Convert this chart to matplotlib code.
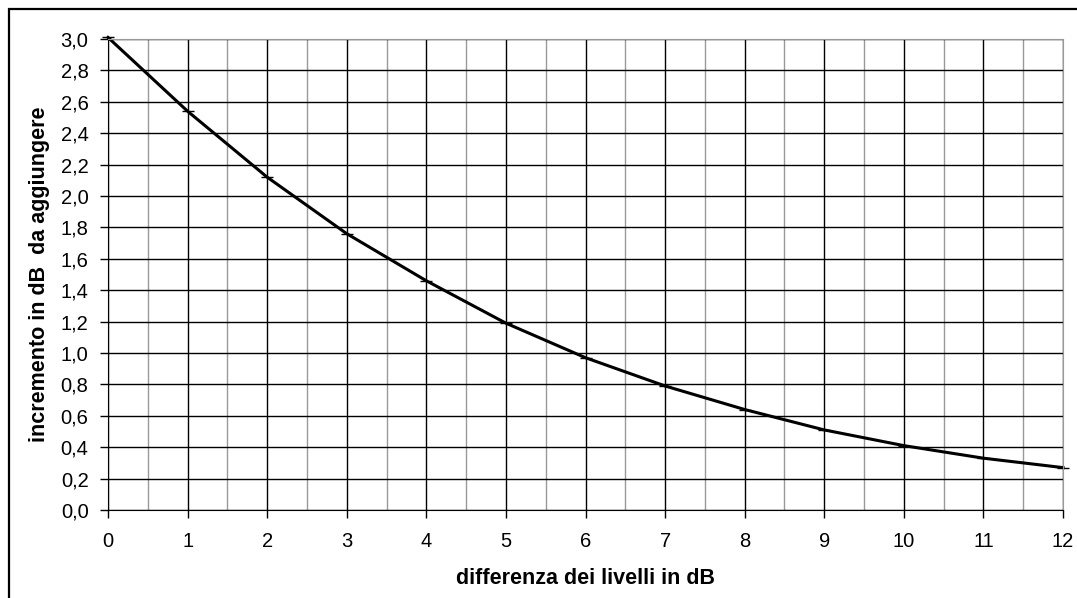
import numpy as np
import matplotlib
matplotlib.use("Agg")
from matplotlib import pyplot as plt
from matplotlib.patches import Rectangle
from matplotlib.ticker import FuncFormatter, MultipleLocator

# differenza tra i livelli (dB) e incremento da aggiungere (dB)
diff_db = [0, 1, 2, 3, 4, 5, 6, 7, 8, 9, 10, 11, 12]
incr_db = [3.01, 2.54, 2.12, 1.76, 1.46, 1.19, 0.97, 0.79, 0.64, 0.51, 0.41, 0.33, 0.27]

x_label = "differenza dei livelli in dB"
y_label = "incremento in dB  da aggiungere"

plt.rcParams['font.family'] = ['Liberation Sans', 'DejaVu Sans']

fig = plt.figure(figsize=(10.77, 5.98), dpi=100)
ax = fig.add_axes([108/1077, 1 - 510/598, (1063 - 108)/1077, (510 - 39)/598])

# cornice esterna
fig.patches.append(Rectangle((9/1077, -0.05), 1.1, 1 - 9/598 + 0.05,
                             transform=fig.transFigure, fill=False,
                             edgecolor="black", linewidth=1.6))

# griglia: verticali ogni 0,5 (grigie) e ogni 1 (nere), orizzontali ogni 0,2
ax.set_xlim(0, 12)
ax.set_ylim(0, 3.0)
ax.xaxis.set_major_locator(MultipleLocator(1))
ax.xaxis.set_minor_locator(MultipleLocator(0.5))
ax.yaxis.set_major_locator(MultipleLocator(0.2))
ax.grid(which="major", axis="both", color="black", linewidth=1.0)
ax.grid(which="minor", axis="x", color="#999999", linewidth=1.0)
ax.set_axisbelow(True)

ax.plot(diff_db, incr_db, color="black", linewidth=2.2, marker="_",
        markersize=8, markeredgewidth=1.0, clip_on=False)

ax.yaxis.set_major_formatter(FuncFormatter(lambda v, p: "{:.1f}".format(v).replace(".", ",")))
ax.tick_params(which="major", direction="out", length=6, width=1, labelsize=14.5)
ax.tick_params(axis="y", pad=8)
ax.tick_params(axis="x", pad=10)
ax.tick_params(which="minor", length=0)

for s in ["top", "right"]:
    ax.spines[s].set_color("#999999")
for s in ["left", "bottom"]:
    ax.spines[s].set_color("black")

ax.set_xlabel(x_label, fontsize=15.5, fontweight="bold", labelpad=12)
ax.set_ylabel(y_label, fontsize=15.5, fontweight="bold", labelpad=8)

fig.savefig("out.png", dpi=100)
